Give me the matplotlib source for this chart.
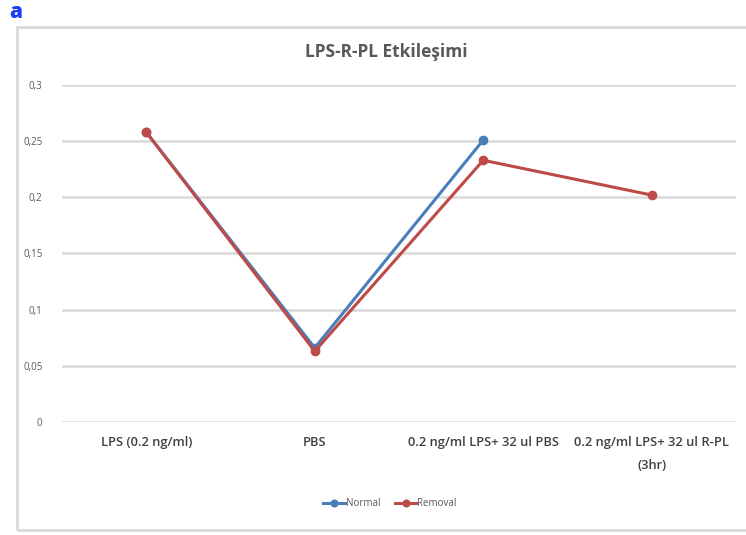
import matplotlib.pyplot as plt
from matplotlib.patches import Rectangle

categories = ["LPS (0.2 ng/ml)", "PBS", "0.2 ng/ml LPS+ 32 ul PBS",
              "0.2 ng/ml LPS+ 32 ul R-PL\n(3hr)"]
normal = [0.258, 0.066, 0.251]
removal = [0.258, 0.063, 0.233, 0.202]
yticks = [0, 0.05, 0.1, 0.15, 0.2, 0.25, 0.3]
ytick_labels = ["0", "0,05", "0,1", "0,15", "0,2", "0,25", "0,3"]

plt.rcParams['font.family'] = ['Open Sans', 'DejaVu Sans']

fig = plt.figure(figsize=(7.46, 5.35), dpi=100)

# chart frame
fig.patches.append(Rectangle((17 / 746, 1 - 530 / 535), 740 / 746, 503 / 535,
                             transform=fig.transFigure, fill=False,
                             edgecolor="#d9d9d9", linewidth=2))
fig.text(9 / 746, 1 - 12 / 535, "a", color="#1a3ff5", fontsize=15,
         fontweight="heavy", va="center", ha="left")

ax = fig.add_axes([62 / 746, 1 - 422 / 535, 674 / 746, 337 / 535])
x = list(range(len(categories)))
ax.plot(x[:len(normal)], normal, color="#4a7ebb", marker="o", markersize=6,
        linewidth=2.2, label="Normal", clip_on=False, zorder=3)
ax.plot(x, removal, color="#be4b48", marker="o", markersize=6,
        linewidth=2.2, label="Removal", clip_on=False, zorder=4)

ax.set_xlim(-0.5, len(categories) - 0.5)
ax.set_ylim(0, 0.3)
ax.set_yticks(yticks)
ax.set_yticklabels(ytick_labels, fontsize=7, color="#595959")
ax.set_xticks(x)
ax.set_xticklabels(categories, fontsize=9.3, color="#404040",
                   fontweight="semibold", linespacing=2.0, va="top")
ax.tick_params(axis="both", length=0)
ax.tick_params(axis="y", pad=14)
ax.tick_params(axis="x", pad=10)
ax.grid(axis="y", color="#d9d9d9", linewidth=1.8)
ax.set_axisbelow(True)
for s in ax.spines.values():
    s.set_visible(False)

fig.text(386 / 746, 1 - 52 / 535, "LPS-R-PL Etkileşimi", ha="center",
         va="center", fontsize=12.5, fontweight="bold", color="#595959")

fig.legend(loc="center", bbox_to_anchor=(390 / 746, 1 - 504 / 535), ncol=2,
           frameon=False, fontsize=7, labelcolor="#595959", handlelength=2.2,
           handletextpad=0.1, columnspacing=1.5, markerscale=0.8)

fig.savefig("out.png", dpi=100)
